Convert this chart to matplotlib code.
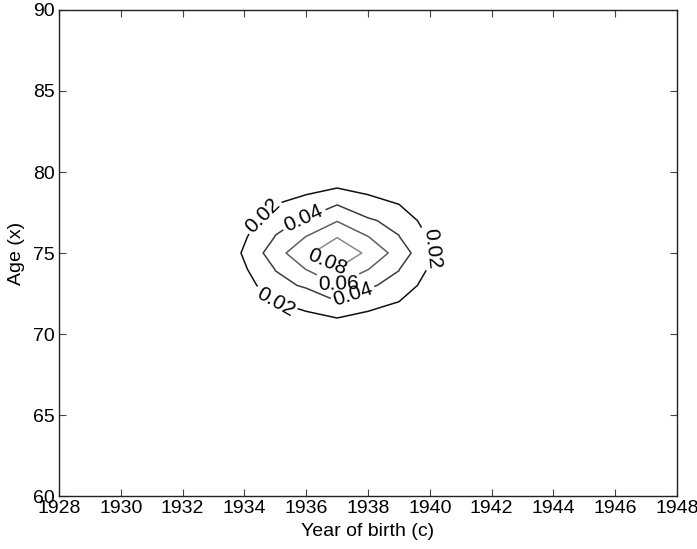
import numpy as np
import matplotlib
matplotlib.use("Agg")
import matplotlib.pyplot as plt

plt.rcParams['font.family'] = ['Liberation Sans', 'DejaVu Sans']

# Grid axes
years = np.arange(1928, 1949)          # year of birth (c)
ages = np.arange(60, 91)               # age (x)

# Density values around the peak at (1937, 75); rows are ages 75..80,
# columns are years 1937..1941 (the surface is mirrored about the peak).
peak_year = 1937
peak_age = 75
quadrant = [
    [0.0950, 0.0762, 0.0514, 0.0225, 0.0],   # age 75
    [0.0792, 0.0605, 0.0405, 0.0178, 0.0],   # age 76
    [0.0590, 0.0420, 0.0353, 0.0098, 0.0],   # age 77
    [0.0394, 0.0302, 0.0201, 0.0050, 0.0],   # age 78
    [0.0202, 0.0132, 0.0060, 0.0020, 0.0],   # age 79
    [0.0,    0.0,    0.0,    0.0,    0.0],   # age 80
]
levels = [0.02, 0.04, 0.06, 0.08]
level_colors = ['#111111', '#3c3c3c', '#5e5e5e', '#8a8a8a']

# Build the full surface
q = np.array(quadrant)
Z = np.zeros((len(ages), len(years)))
for dy in range(q.shape[0]):
    for dx in range(q.shape[1]):
        for sy in (-1, 1):
            for sx in (-1, 1):
                a = peak_age + sy * dy
                y = peak_year + sx * dx
                Z[a - ages[0], y - years[0]] = q[dy, dx]

fig = plt.figure(figsize=(6.97, 5.49), dpi=100)
ax = fig.add_axes([0.0847, 0.0965, 0.8866, 0.8853])

cs = ax.contour(years, ages, Z, levels=levels, colors=level_colors,
                linewidths=1.1)

label_spots = [
    (1934.6, 77.3), (1940.1, 75.3), (1935.0, 72.0),
    (1935.9, 77.25), (1937.5, 72.4),
    (1937.0, 73.2),
    (1936.66, 74.4),
]
ax.clabel(cs, inline=True, fontsize=15, fmt='%.2f', manual=label_spots,
          colors='black', inline_spacing=3)

ax.set_xlim(1928, 1948)
ax.set_ylim(60, 90)
ax.set_xticks(np.arange(1928, 1949, 2))
ax.set_yticks(np.arange(60, 91, 5))
ax.tick_params(direction='in', length=5, width=0.8, top=True, right=True,
               labelsize=14, color='#444444', pad=3)
for s in ax.spines.values():
    s.set_linewidth(1.0)
    s.set_color('#222222')

ax.set_xlabel('Year of birth (c)', fontsize=14, labelpad=4)
ax.set_ylabel('Age (x)', fontsize=14, labelpad=6)

fig.savefig('out.png', dpi=100)
